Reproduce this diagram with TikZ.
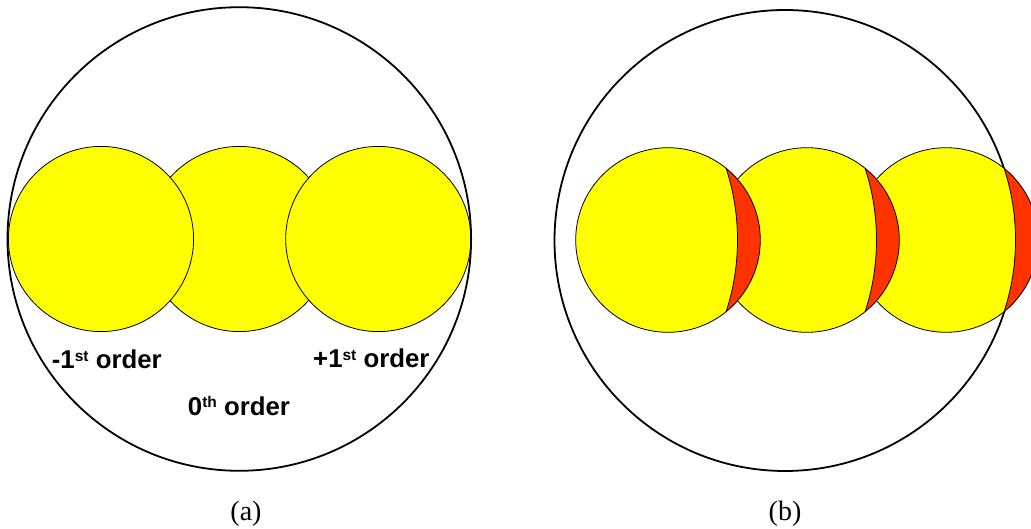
\documentclass[tikz,border=0pt]{standalone}
\usepackage{fontspec}
\setmainfont{Liberation Serif}
\newfontfamily\labfont{Liberation Sans}
\definecolor{spot}{RGB}{255,255,0}
\definecolor{crescent}{RGB}{255,51,0}
\newcommand\ordlab[2]{{\labfont\bfseries\fontsize{25.8}{30}\selectfont #1\raisebox{7.5pt}{\fontsize{15.5}{16}\selectfont #2} order}}
\newcommand\beamb[1]{%
  \fill[spot] (#1,240) circle (92.3);
  \begin{scope}
    \clip (#1,240) circle (92.3);
    \fill[crescent, even odd rule] (#1-100,140) rectangle (#1+100,340) (#1-161,240) circle (230.5);
    \draw[thinline] (#1-161,240) circle (230.5);
  \end{scope}
  \draw[thinline] (#1,240) circle (92.3);
}
\begin{document}
\begin{tikzpicture}[x=1pt,y=-1pt,
  pupil/.style={draw=black,line width=1.8pt},
  beam/.style={draw=black,fill=spot,line width=0.8pt},
  thinline/.style={draw=black,line width=0.8pt},
  captext/.style={anchor=base,inner sep=0pt,font=\fontsize{28}{32}\selectfont},
  ordtext/.style={anchor=base west,inner sep=0pt}]
\useasboundingbox (0,0) rectangle (1031,529);
\clip (0,0) rectangle (1031,529);
\fill[white] (0,0) rectangle (1031,529);
% panel (a)
\draw[beam] (239.3,239) circle (92.6);
\draw[beam] (101,239) circle (92.6);
\draw[beam] (378.3,239) circle (92.6);
\draw[pupil] (239.3,239) circle (231.8);
\node[ordtext] (m1) at (51.7,369) {\ordlab{-1}{st}};
\node[ordtext] (p1) at (313,367.5) {\ordlab{+1}{st}};
\node[ordtext] (z0) at (187.7,415) {\ordlab{0}{th}};
\node[captext] (capa) at (246,520) {(a)};
% panel (b)
\draw[pupil] (785,240.5) circle (230.5);
\beamb{946}
\beamb{807}
\beamb{668}
\node[captext] (capb) at (785,520) {(b)};
\end{tikzpicture}
\end{document}
